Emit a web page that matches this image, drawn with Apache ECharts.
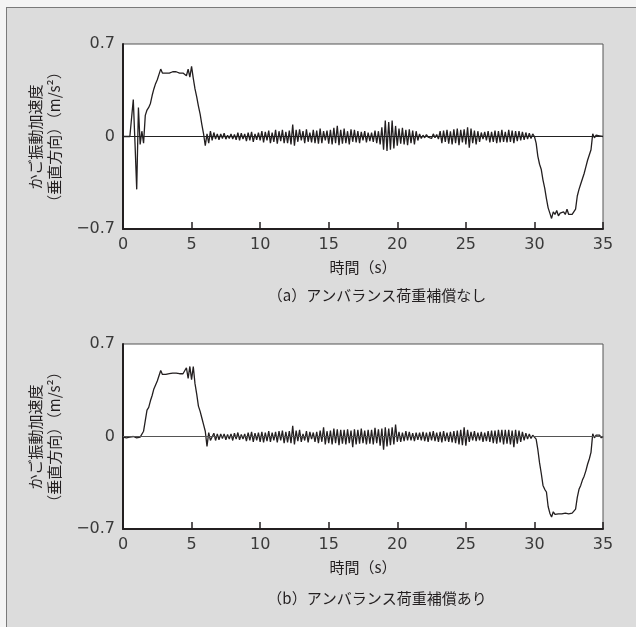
<!DOCTYPE html>
<html>
<head>
<meta charset="utf-8">
<script src="https://cdn.jsdelivr.net/npm/echarts@6/dist/echarts.min.js"></script>
<style>
  html, body { margin: 0; padding: 0; background: #f4f4f4; }
  #frame {
    position: absolute; left: 6px; top: 7px; width: 630px; height: 620px;
    background: #dcdcdc; border-left: 1px solid #7a7a7a; border-top: 1px solid #7a7a7a;
  }
  #main { position: absolute; left: 0; top: 0; width: 636px; height: 627px; }
</style>
</head>
<body>
<div id="frame"></div>
<div id="main"></div>
<script type="text/javascript">
// sampling step of the recorded signal (s)
var SAMPLE_STEP = 0.125;

var xTicks = [0, 5, 10, 15, 20, 25, 30, 35];
var yTicks = [-0.7, 0, 0.7];
var yTickLabels = ["−0.7", "0", "0.7"];

// (a) アンバランス荷重補償なし  — one row = 1 s
var accNoComp = [
  0, 0.005, 0, 0.005, 0, 0.01, 0.28, -0.05,
  -0.40, 0.22, -0.06, 0.04, -0.05, 0.16, 0.20, 0.22,
  0.25, 0.31, 0.36, 0.40, 0.43, 0.47, 0.51, 0.48,
  0.485, 0.48, 0.49, 0.48, 0.485, 0.49, 0.48, 0.49,
  0.485, 0.48, 0.49, 0.48, 0.49, 0.46, 0.51, 0.45,
  0.53, 0.44, 0.36, 0.30, 0.23, 0.17, 0.09, 0.02,
  -0.07, 0.02, -0.05, 0.04, -0.03, 0.03, -0.02, 0.02,
  -0.025, 0.02, -0.015, 0.025, -0.02, 0.01, -0.015, 0.02,
  -0.02, 0.015, -0.025, 0.03, -0.03, 0.025, -0.02, 0.02,
  -0.035, 0.03, -0.03, 0.035, -0.04, 0.02, -0.025, 0.03,
  -0.03, 0.04, -0.045, 0.035, -0.03, 0.045, -0.05, 0.03,
  -0.04, 0.05, -0.055, 0.04, -0.035, 0.05, -0.05, 0.035,
  -0.05, 0.045, -0.06, 0.09, -0.07, 0.05, -0.04, 0.055,
  -0.03, 0.04, -0.05, 0.055, -0.04, 0.03, -0.045, 0.05,
  -0.05, 0.045, -0.055, 0.06, -0.05, 0.04, -0.03, 0.045,
  -0.055, 0.05, -0.06, 0.065, -0.05, 0.08, -0.065, 0.05,
  -0.055, 0.06, -0.05, 0.04, -0.06, 0.055, -0.04, 0.05,
  -0.045, 0.04, -0.05, 0.035, -0.03, 0.04, -0.045, 0.03,
  -0.035, 0.03, -0.04, 0.045, -0.05, 0.04, -0.06, 0.07,
  -0.10, 0.12, -0.11, 0.11, -0.10, 0.12, -0.09, 0.08,
  -0.07, 0.06, -0.055, 0.065, -0.06, 0.05, -0.065, 0.055,
  -0.05, 0.045, -0.06, 0.04, -0.03, 0.02, -0.015, 0.01,
  -0.01, 0.015, -0.005, 0.01, -0.015, 0.02, -0.01, 0.015,
  -0.02, 0.04, -0.05, 0.045, -0.04, 0.05, -0.055, 0.04,
  -0.06, 0.055, -0.05, 0.06, -0.065, 0.05, -0.045, 0.055,
  -0.06, 0.07, -0.085, 0.06, -0.05, 0.045, -0.06, 0.04,
  -0.04, 0.03, -0.02, 0.035, -0.03, 0.04, -0.045, 0.035,
  -0.04, 0.045, -0.05, 0.04, -0.045, 0.05, -0.04, 0.035,
  -0.045, 0.05, -0.04, 0.045, -0.05, 0.04, -0.035, 0.04,
  -0.03, 0.035, -0.025, 0.03, -0.02, 0.025, -0.015, 0.02,
  0.0, -0.05, -0.15, -0.21, -0.25, -0.33, -0.39, -0.47,
  -0.54, -0.58, -0.62, -0.57, -0.59, -0.56, -0.60, -0.58,
  -0.59, -0.57, -0.59, -0.55, -0.59, -0.58, -0.59, -0.585,
  -0.55, -0.45, -0.40, -0.36, -0.32, -0.28, -0.23, -0.18,
  -0.14, -0.10, 0.02, -0.01, 0.01, -0.005, 0.005, -0.01,
  0.0
];

// (b) アンバランス荷重補償あり
var accComp = [
  -0.005, 0.0, -0.01, 0.0, -0.005, -0.01, 0.0, -0.005,
  -0.01, 0.0, -0.005, 0.005, 0.04, 0.12, 0.20, 0.22,
  0.27, 0.31, 0.36, 0.39, 0.42, 0.46, 0.50, 0.47,
  0.475, 0.47, 0.48, 0.475, 0.47, 0.48, 0.475, 0.48,
  0.47, 0.475, 0.48, 0.475, 0.47, 0.52, 0.44, 0.53,
  0.43, 0.53, 0.40, 0.32, 0.23, 0.19, 0.14, 0.09,
  0.04, -0.075, 0.03, -0.03, -0.02, 0.025, -0.03, 0.02,
  -0.025, 0.02, -0.015, 0.02, -0.025, 0.015, -0.02, 0.02,
  -0.03, 0.025, -0.02, 0.03, -0.025, 0.015, -0.02, 0.02,
  -0.035, 0.03, -0.03, 0.035, -0.04, 0.025, -0.03, 0.03,
  -0.04, 0.035, -0.045, 0.03, -0.035, 0.04, -0.04, 0.03,
  -0.03, 0.035, -0.045, 0.04, -0.03, 0.045, -0.05, 0.035,
  -0.045, 0.04, -0.05, 0.08, -0.06, 0.045, -0.035, 0.05,
  -0.04, 0.02, -0.03, 0.04, -0.045, 0.035, -0.02, 0.03,
  -0.04, 0.035, -0.05, 0.045, -0.04, 0.07, -0.06, 0.04,
  -0.05, 0.045, -0.06, 0.06, -0.05, 0.055, -0.065, 0.05,
  -0.055, 0.05, -0.06, 0.055, -0.05, 0.045, -0.08, 0.055,
  -0.06, 0.05, -0.055, 0.06, -0.05, 0.045, -0.06, 0.05,
  -0.055, 0.05, -0.06, 0.065, -0.05, 0.055, -0.07, 0.06,
  -0.10, 0.07, -0.075, 0.06, -0.065, 0.07, -0.06, 0.09,
  -0.04, 0.035, -0.04, 0.03, -0.035, 0.04, -0.03, 0.035,
  -0.03, 0.025, -0.035, 0.03, -0.025, 0.03, -0.03, 0.035,
  -0.035, 0.03, -0.04, 0.035, -0.03, 0.04, -0.035, 0.03,
  -0.04, 0.035, -0.045, 0.04, -0.035, 0.03, -0.04, 0.035,
  -0.045, 0.04, -0.05, 0.045, -0.06, 0.05, -0.065, 0.07,
  -0.07, 0.05, -0.04, 0.035, -0.03, 0.04, -0.035, 0.03,
  -0.03, 0.035, -0.04, 0.03, -0.035, 0.04, -0.04, 0.045,
  -0.05, 0.045, -0.055, 0.05, -0.045, 0.05, -0.06, 0.05,
  -0.055, 0.05, -0.06, 0.045, -0.08, 0.05, -0.055, 0.045,
  -0.04, 0.035, -0.03, 0.025, -0.02, 0.02, -0.015, 0.01,
  0.0, -0.02, -0.10, -0.20, -0.28, -0.37, -0.40, -0.42,
  -0.53, -0.58, -0.61, -0.57, -0.59, -0.575, -0.585, -0.57,
  -0.585, -0.575, -0.58, -0.57, -0.585, -0.575, -0.58, -0.585,
  -0.55, -0.46, -0.40, -0.37, -0.33, -0.30, -0.26, -0.21,
  -0.17, -0.12, 0.02, -0.01, 0.01, -0.005, 0.01, -0.01,
  0.0
];

var yNameLine1 = "かご振動加速度";
var yNameLine2 = "（垂直方向）（m/s²）";
var xName = "時間（s）";
var captionA = "（a）アンバランス荷重補償なし";
var captionB = "（b）アンバランス荷重補償あり";

function toPairs(arr) {
  return arr.map(function (v, i) { return [i * SAMPLE_STEP, v]; });
}

var ink = "#231f20";
var numFont = "DejaVu Sans";
var jpFont = "Noto Sans CJK JP";

function makeX(idx) {
  return {
    type: "value", gridIndex: idx, min: xTicks[0], max: xTicks[xTicks.length - 1], interval: 5,
    name: xName, nameLocation: "middle", nameGap: 31,
    nameTextStyle: { color: ink, fontFamily: jpFont, fontSize: 15 },
    axisLine: { onZero: false, lineStyle: { color: ink, width: 2 } },
    axisTick: { show: true, inside: true, length: 7, lineStyle: { color: ink, width: 1.5 } },
    axisLabel: { color: "#3a3a3a", fontFamily: numFont, fontSize: 16, margin: 8 },
    splitLine: { show: false }
  };
}

function makeY(idx) {
  return {
    type: "value", gridIndex: idx, min: yTicks[0], max: yTicks[2], interval: 0.7,
    axisLine: { onZero: false, lineStyle: { color: ink, width: 2 } },
    axisTick: { show: false },
    axisLabel: {
      color: "#3a3a3a", fontFamily: numFont, fontSize: 16, margin: 8,
      formatter: function (v) {
        var k = yTicks.findIndex(function (t) { return Math.abs(t - v) < 1e-9; });
        return k >= 0 ? yTickLabels[k] : "";
      }
    },
    splitLine: { show: false }
  };
}

function makeSeries(idx, data, zeroColor) {
  return {
    type: "line", xAxisIndex: idx, yAxisIndex: idx,
    data: toPairs(data), showSymbol: false,
    lineStyle: { color: ink, width: 1.3 },
    markLine: {
      silent: true, symbol: "none", label: { show: false },
      lineStyle: { color: zeroColor, width: 1, type: "solid" },
      data: [{ yAxis: 0 }]
    }
  };
}

function yNames(cy) {
  return [
    { type: "text", x: 35, y: cy, rotation: Math.PI / 2,
      style: { text: yNameLine1, fill: ink, font: "15px " + jpFont, textAlign: "center", textVerticalAlign: "middle" } },
    { type: "text", x: 54, y: cy, rotation: Math.PI / 2,
      style: { text: yNameLine2, fill: ink, font: "15px " + jpFont, textAlign: "center", textVerticalAlign: "middle" } }
  ];
}

var myChart = echarts.init(document.getElementById("main"));
var option = {
  animation: false,
  grid: [
    { left: 123, top: 44, width: 480, height: 185, show: true, backgroundColor: "#fff", borderColor: "#555", borderWidth: 1 },
    { left: 123, top: 344, width: 480, height: 185, show: true, backgroundColor: "#fff", borderColor: "#555", borderWidth: 1 }
  ],
  xAxis: [makeX(0), makeX(1)],
  yAxis: [makeY(0), makeY(1)],
  series: [makeSeries(0, accNoComp, "#222"), makeSeries(1, accComp, "#555")],
  graphic: yNames(137).concat(yNames(437)).concat([
    { type: "text", x: 377, y: 295,
      style: { text: captionA, fill: ink, font: "15px " + jpFont, textAlign: "center", textVerticalAlign: "middle" } },
    { type: "text", x: 377, y: 598,
      style: { text: captionB, fill: ink, font: "15px " + jpFont, textAlign: "center", textVerticalAlign: "middle" } }
  ])
};
myChart.setOption(option);
</script>
</body>
</html>
